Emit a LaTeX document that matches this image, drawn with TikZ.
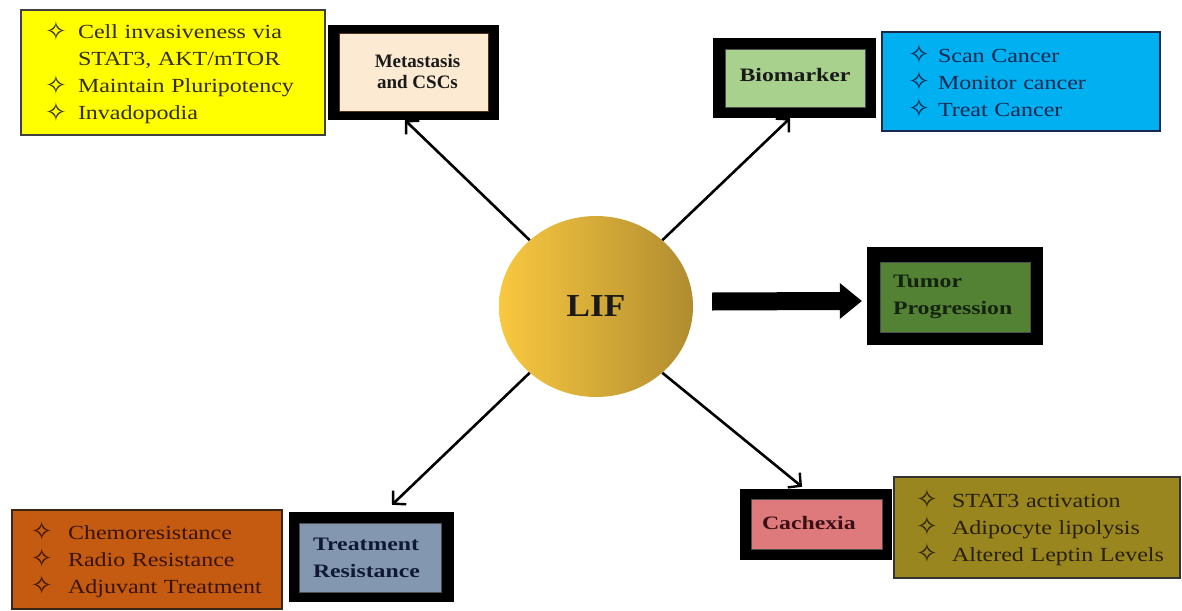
\documentclass[tikz,border=0pt]{standalone}
\usepackage{fontspec}
\setmainfont{Liberation Serif}
\newfontfamily\bodyf[FakeStretch=1.2]{Liberation Serif}
\newfontfamily\titf[FakeStretch=1.25]{Liberation Serif}
\newfontfamily\liff[FakeStretch=1.1]{Liberation Serif}
\newfontfamily\symf{DejaVu Sans}
\usetikzlibrary{shapes.geometric,arrows.meta}

\definecolor{cyel}{RGB}{255,255,0}
\definecolor{cpeach}{RGB}{253,234,210}
\definecolor{cbio}{RGB}{169,209,142}
\definecolor{cblue}{RGB}{0,176,240}
\definecolor{ctum}{RGB}{84,130,53}
\definecolor{ccach}{RGB}{223,122,124}
\definecolor{colive}{RGB}{153,134,30}
\definecolor{corange}{RGB}{197,90,17}
\definecolor{ctreat}{RGB}{132,151,176}
\definecolor{lifL}{RGB}{249,200,64}
\definecolor{lifR}{RGB}{176,140,48}
\definecolor{tyel}{RGB}{50,45,20}
\definecolor{tblue}{RGB}{25,40,80}
\definecolor{tolive}{RGB}{40,32,10}
\definecolor{torange}{RGB}{55,20,5}
\definecolor{ttum}{RGB}{20,35,15}
\definecolor{tcach}{RGB}{60,15,20}
\definecolor{ttreat}{RGB}{15,25,55}
\definecolor{tdark}{RGB}{26,26,26}

\newcommand\bul{\raisebox{-1.5pt}{\symf\fontsize{26}{26}\selectfont ✧}}
\newcommand\li[3]{\hspace*{#1pt}\makebox[#2pt][l]{\bul}#3}
\newcommand\lc[3]{\hspace*{\dimexpr#1pt+#2pt\relax}#3}

\begin{document}
\begin{tikzpicture}[x=1pt,y=-1pt,
 frame/.style={rectangle,fill=black,inner sep=0pt},
 inbox/.style={rectangle,inner sep=0pt,line width=0.6pt,draw=black!70},
 listbox/.style={rectangle,inner sep=0pt,line width=1.2pt,align=left,font=\bodyf\fontsize{20}{27}\selectfont},
 titlef/.style={font=\titf\bfseries\fontsize{19}{27}\selectfont},
 conn/.style={line width=2.6pt,-{Straight Barb[length=9pt,width=19pt,line width=2.4pt]}}
]
\useasboundingbox (0,0) rectangle (1182,610);

% central node
\node[ellipse,minimum width=194pt,minimum height=181pt,inner sep=0pt,
      left color=lifL,right color=lifR,text=tdark,
      font=\liff\bfseries\fontsize{32}{32}\selectfont] (lif) at (596,306.5) {LIF};

% Metastasis
\node[frame,minimum width=171pt,minimum height=95pt] (meta) at (413.5,72.5) {};
\node[inbox,fill=cpeach,draw=black!60!brown,minimum width=149pt,minimum height=78pt,
      align=center,text=tdark,font=\bfseries\fontsize{19}{21}\selectfont] (metain) at (413.5,72) {\hspace*{8pt}Metastasis\\\hspace*{8pt}and CSCs};

% Biomarker
\node[frame,minimum width=163pt,minimum height=80pt] (bio) at (794.5,78) {};
\node[inbox,fill=cbio,minimum width=140pt,minimum height=58pt,text=tdark,titlef] (bioin) at (795,78) {\raisebox{6pt}{Biomarker}};

% Tumor progression
\node[frame,minimum width=176pt,minimum height=98pt] (tumor) at (955,296) {};
\node[inbox,fill=ctum,text width=124pt,inner xsep=13pt,minimum height=70pt,align=left,text=ttum,titlef] (tumorin) at (955,297) {Tumor\\Progression};

% Cachexia
\node[frame,minimum width=152pt,minimum height=71pt] (cach) at (816,524.5) {};
\node[inbox,fill=ccach,text width=109pt,inner xsep=11pt,minimum height=50pt,align=left,text=tcach,titlef] (cachin) at (816.5,524) {\raisebox{2pt}{Cachexia}};

% Treatment resistance
\node[frame,minimum width=165pt,minimum height=90pt] (treat) at (371.5,557) {};
\node[inbox,fill=ctreat,text width=114pt,inner xsep=14pt,minimum height=69pt,align=left,text=ttreat,titlef] (treatin) at (370,557.5) {Treatment\\Resistance};

% list boxes
\node[listbox,fill=cyel,draw=black!75,text width=304pt,minimum height=125pt,text=tyel] (ylist) at (173,72.5)
 {\li{24}{33}{Cell invasiveness via}\\\lc{24}{33}{STAT3, AKT/mTOR}\\\li{24}{33}{Maintain Pluripotency}\\\li{24}{33}{Invadopodia}};
\node[listbox,fill=cblue,draw=tblue,text width=278pt,minimum height=99pt,text=tblue] (blist) at (1021,81.5)
 {\li{26}{30}{Scan Cancer}\\\li{26}{30}{Monitor cancer}\\\li{26}{30}{Treat Cancer}};
\node[listbox,fill=colive,draw=black!80,text width=286pt,minimum height=101pt,text=tolive] (olist) at (1037,527.5)
 {\li{22}{36}{STAT3 activation}\\\li{22}{36}{Adipocyte lipolysis}\\\li{22}{36}{Altered Leptin Levels}};
\node[listbox,fill=corange,draw=black!70!brown,text width=270pt,minimum height=99pt,text=torange] (olist2) at (147,559.5)
 {\li{19}{37}{Chemoresistance}\\\li{19}{37}{Radio Resistance}\\\li{19}{37}{Adjuvant Treatment}};

% connectors
\draw[conn] (lif.135) -- ([xshift=-8.5pt]meta.south);
\draw[conn] (lif.45) -- ([xshift=-4.5pt]bio.south);
\draw[conn] (lif.225) -- ([xshift=20.5pt,yshift=7pt]treat.north);
\draw[conn] (lif.315) -- ([xshift=-14pt,yshift=2pt]cach.north);

% block arrow to tumor progression
\coordinate (ba) at ([xshift=19pt,yshift=5pt]lif.east);
\coordinate (bb) at ([xshift=-5pt,yshift=-5pt]tumor.west);
\fill[black] ([yshift=9pt]ba) -- ([xshift=-22pt,yshift=9pt]bb) -- ([xshift=-22pt,yshift=18pt]bb)
  -- (bb) -- ([xshift=-22pt,yshift=-18pt]bb) -- ([xshift=-22pt,yshift=-9pt]bb)
  -- ([yshift=-9pt]ba) -- cycle;
\end{tikzpicture}
\end{document}
